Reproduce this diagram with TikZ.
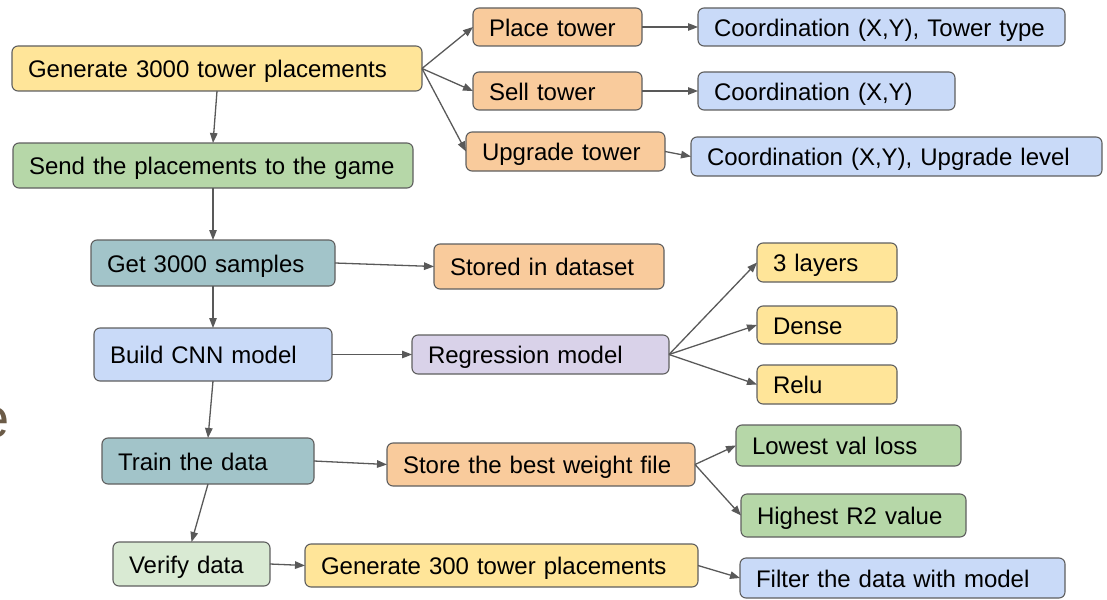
\documentclass[tikz,border=0pt]{standalone}
\usepackage{fontspec}
\setmainfont{Liberation Sans}
\usetikzlibrary{arrows.meta}

\definecolor{bordergray}{HTML}{5F5F5F}
\definecolor{arrowgray}{HTML}{595959}
\definecolor{fillyellow}{HTML}{FFE599}
\definecolor{fillgreen}{HTML}{B6D7A8}
\definecolor{fillpalegreen}{HTML}{D9EAD3}
\definecolor{fillorange}{HTML}{F9CB9C}
\definecolor{fillblue}{HTML}{C9DAF8}
\definecolor{fillteal}{HTML}{A2C4C9}
\definecolor{fillpurple}{HTML}{D9D2E9}
\definecolor{edgebrown}{HTML}{6B5B47}

\tikzset{
  box/.style={draw=bordergray, line width=1.1pt, rounded corners=6pt,
    inner xsep=16pt, inner ysep=0pt, outer sep=0pt, align=left,
    text height=22pt, text depth=3.5pt,
    font=\fontsize{24}{28}\selectfont, text=black},
  arr/.style={draw=arrowgray, line width=1.3pt,
    -{Triangle[length=10pt,width=7.5pt]}},
}

% rounded box given by its corners: name, x1, y1, x2, y2, fill, text
\newcommand\flowbox[7]{%
  \pgfmathsetmacro\bxw{#4-#2}%
  \pgfmathsetmacro\bxh{#5-#3}%
  \pgfmathsetmacro\bxt{#4-#2-32}%
  \node[box, fill=#6, minimum width=\bxw pt, minimum height=\bxh pt,
        text width=\bxt pt, anchor=north west] (#1) at (#2,#3) {#7};}

\begin{document}
\begin{tikzpicture}[x=1pt, y=-1pt]
\useasboundingbox (0,0) rectangle (1107,599);

% letter fragment at the left edge
\begin{scope}
  \clip (0,395) rectangle (12,450);
  \node[anchor=base east, inner sep=0pt, text=edgebrown,
        font=\fontsize{56}{60}\selectfont] (frag) at (9.5,437) {e};
\end{scope}

% main column
\flowbox{gen}{12}{46}{422}{91}{fillyellow}{Generate 3000 tower placements}
\flowbox{send}{13}{143}{413}{188}{fillgreen}{Send the placements to the game}
\flowbox{get}{91}{240}{335}{286}{fillteal}{Get 3000 samples}
\flowbox{cnn}{94}{328}{332}{381}{fillblue}{Build CNN model}
\flowbox{train}{102}{438}{314}{484}{fillteal}{Train the data}
\flowbox{verify}{113}{542}{270}{586}{fillpalegreen}{Verify data}

% tower actions
\flowbox{place}{473}{8}{642}{46}{fillorange}{Place tower}
\flowbox{sell}{473}{72}{642}{110}{fillorange}{Sell tower}
\flowbox{upg}{466}{132}{665}{171}{fillorange}{Upgrade tower}
\flowbox{coordA}{698}{8}{1065}{46}{fillblue}{Coordination (X,Y), Tower type}
\flowbox{coordB}{698}{72}{955}{110}{fillblue}{Coordination (X,Y)}
\flowbox{coordC}{691}{137}{1102}{176}{fillblue}{Coordination (X,Y), Upgrade level}

% data and model
\flowbox{stored}{434}{244}{664}{289}{fillorange}{Stored in dataset}
\flowbox{reg}{412}{335}{669}{374}{fillpurple}{Regression model}
\flowbox{layers}{757}{243}{897}{282}{fillyellow}{3 layers}
\flowbox{dense}{757}{306}{897}{344}{fillyellow}{Dense}
\flowbox{relu}{757}{365}{897}{404}{fillyellow}{Relu}

% training and verification
\flowbox{store}{387}{443}{695}{486}{fillorange}{Store the best weight file}
\flowbox{low}{736}{425}{961}{466}{fillgreen}{Lowest val loss}
\flowbox{high}{741}{494}{966}{537}{fillgreen}{Highest R2 value}
\flowbox{genB}{305}{544}{698}{587}{fillyellow}{Generate 300 tower placements}
\flowbox{filter}{740}{558}{1065}{598}{fillblue}{Filter the data with model}

% connectors
\draw[arr] (gen.east) -- (place.west);
\draw[arr] (gen.east) -- (sell.west);
\draw[arr] (gen.east) -- (upg.west);
\draw[arr] (place.east) -- (coordA.west);
\draw[arr] (sell.east) -- (coordB.west);
\draw[arr] (upg.east) -- (coordC.west);
\draw[arr] (gen.south) -- (send.north);
\draw[arr] (send.south) -- (get.north);
\draw[arr] (get.east) -- (stored.west);
\draw[arr] (get.south) -- (cnn.north);
\draw[arr] (cnn.east) -- (reg.west);
\draw[arr] (reg.east) -- (layers.west);
\draw[arr] (reg.east) -- (dense.west);
\draw[arr] (reg.east) -- (relu.west);
\draw[arr] (cnn.south) -- (train.north);
\draw[arr] (train.east) -- (store.west);
\draw[arr] (store.east) -- (low.west);
\draw[arr] (store.east) -- (high.west);
\draw[arr] (train.south) -- (verify.north);
\draw[arr] (verify.east) -- (genB.west);
\draw[arr] (genB.east) -- (filter.west);
\end{tikzpicture}
\end{document}
